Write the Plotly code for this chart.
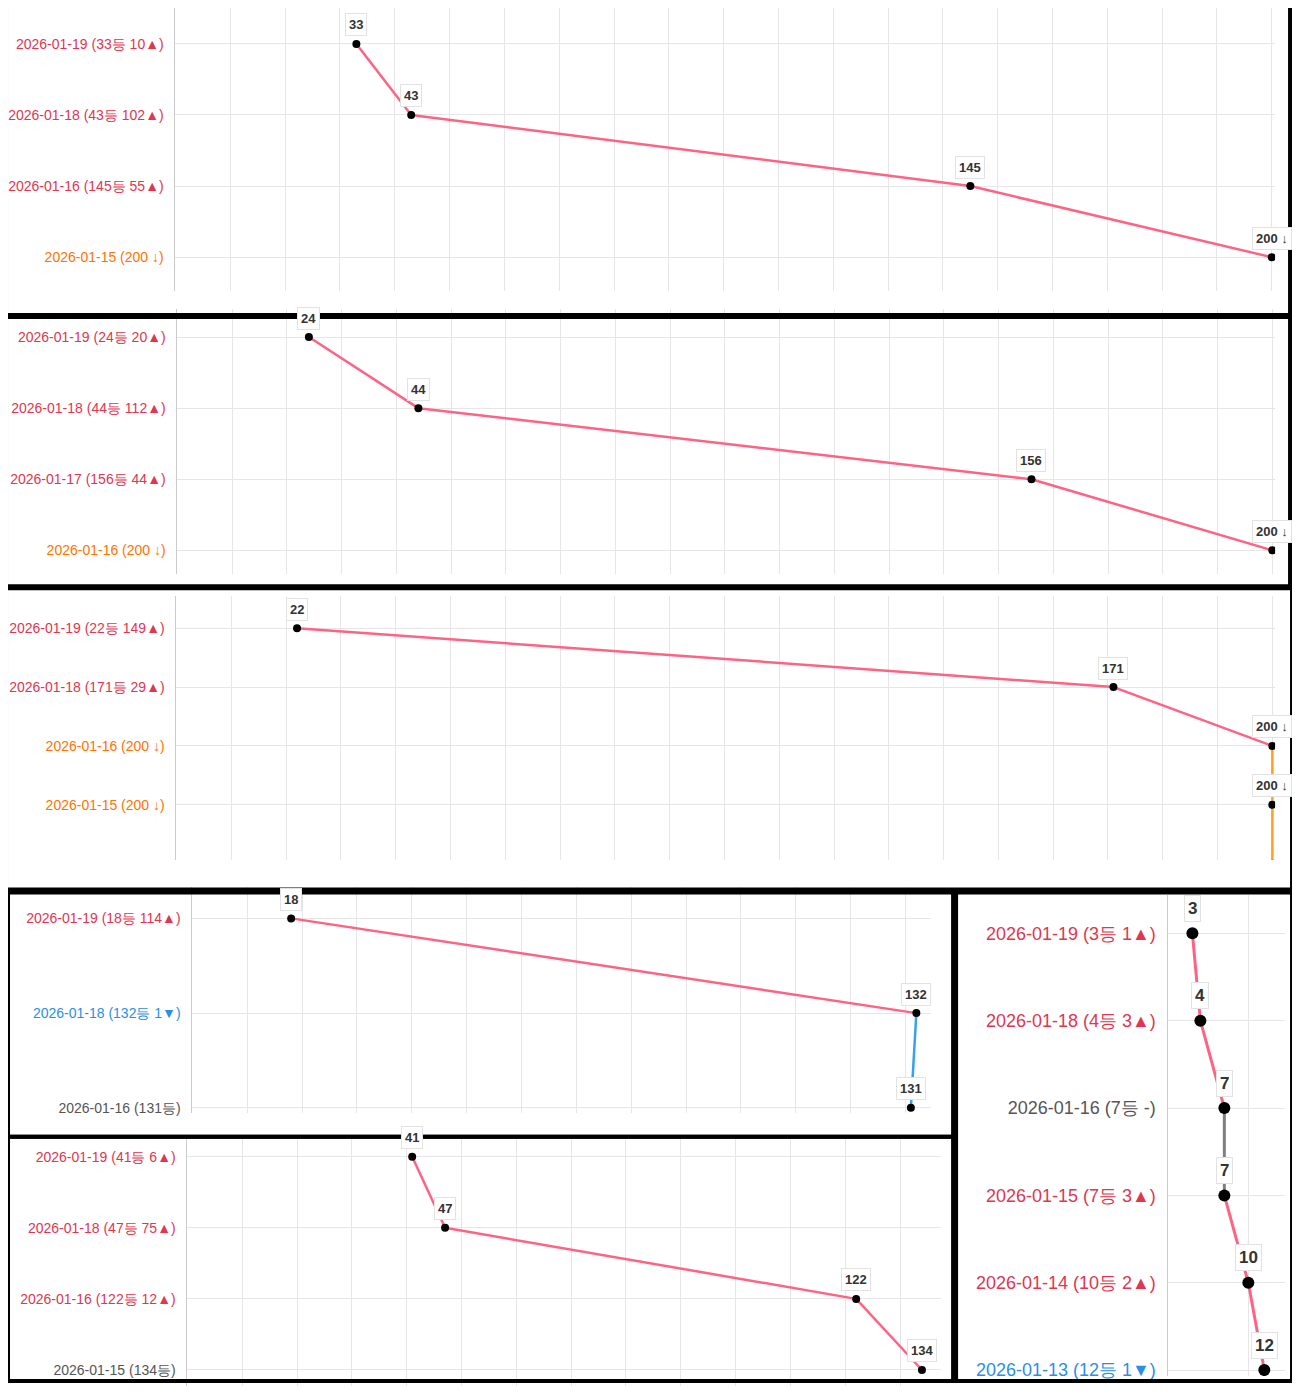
import plotly.graph_objects as go

W, H = 1300, 1396
OFF = 8  # page body margin

RED, ORANGE, BLUE, GREY = "#e0364f", "#ff7300", "#2b8fe8", "#555555"
LINE = {"up": "#ff6384", "out": "#ffa020", "down": "#36a2eb", "same": "#808080"}
TEXT = {"up": RED, "out": ORANGE, "down": BLUE, "same": GREY}

# panel data (top row = latest date)
p1_labels = ["2026-01-19 (33등 10▲)", "2026-01-18 (43등 102▲)", "2026-01-16 (145등 55▲)", "2026-01-15 (200 ↓)"]
p1_ranks = [33, 43, 145, 200]
p1_status = ["up", "up", "up", "out"]
p1_text = ["33", "43", "145", "200 ↓"]

p2_labels = ["2026-01-19 (24등 20▲)", "2026-01-18 (44등 112▲)", "2026-01-17 (156등 44▲)", "2026-01-16 (200 ↓)"]
p2_ranks = [24, 44, 156, 200]
p2_status = ["up", "up", "up", "out"]
p2_text = ["24", "44", "156", "200 ↓"]

p3_labels = ["2026-01-19 (22등 149▲)", "2026-01-18 (171등 29▲)", "2026-01-16 (200 ↓)", "2026-01-15 (200 ↓)", "2026-01-14 (200 ↓)"]
p3_ranks = [22, 171, 200, 200, 200]
p3_status = ["up", "up", "out", "out", "out"]
p3_text = ["22", "171", "200 ↓", "200 ↓", "200 ↓"]

p4_labels = ["2026-01-19 (18등 114▲)", "2026-01-18 (132등 1▼)", "2026-01-16 (131등)"]
p4_ranks = [18, 132, 131]
p4_status = ["up", "down", "same"]
p4_text = ["18", "132", "131"]

p5_labels = ["2026-01-19 (41등 6▲)", "2026-01-18 (47등 75▲)", "2026-01-16 (122등 12▲)", "2026-01-15 (134등)"]
p5_ranks = [41, 47, 122, 134]
p5_status = ["up", "up", "up", "same"]
p5_text = ["41", "47", "122", "134"]

p6_labels = ["2026-01-19 (3등 1▲)", "2026-01-18 (4등 3▲)", "2026-01-16 (7등 -)", "2026-01-15 (7등 3▲)",
             "2026-01-14 (10등 2▲)", "2026-01-13 (12등 1▼)"]
p6_ranks = [3, 4, 7, 7, 10, 12]
p6_status = ["up", "up", "same", "up", "up", "down"]
p6_text = ["3", "4", "7", "7", "10", "12"]

# pixel layout: plot box (x0, x1, y0, y1), x max, first category y, category spacing, font sizes
panels = [
    (p1_labels, p1_ranks, p1_status, p1_text, (172, 1275, 8, 292), 200.6, 44, 71.3, 14, 13),
    (p2_labels, p2_ranks, p2_status, p2_text, (174, 1275, 310, 576), 200.5, 338, 71.3, 14, 13),
    (p3_labels, p3_ranks, p3_status, p3_text, (173, 1275, 598, 862), 200.5, 630, 59.0, 14, 13),
    (p4_labels, p4_ranks, p4_status, p4_text, (189, 930, 890, 1116), 134.7, 921, 95.0, 14, 13),
    (p5_labels, p5_ranks, p5_status, p5_text, (184, 940, 1140, 1390), 137.5, 1160, 71.3, 14, 13),
    (p6_labels, p6_ranks, p6_status, p6_text, (1168, 1285, 898, 1380), 14.6, 936, 87.6, 18, 17),
]


def px(v):
    return (v - OFF) / W


def py(v):
    return 1 - (v - OFF) / H


fig = go.Figure()
annotations = []
for k, (labels, ranks, status, texts, box, xmax, cy0, dy, fs, afs) in enumerate(panels):
    sfx = "" if k == 0 else str(k + 1)
    xa, ya = "x" + sfx, "y" + sfx
    x0, x1, y0, y1 = box
    n = len(ranks)
    idx = list(range(n))
    for i in range(n - 1):
        fig.add_trace(go.Scatter(x=[ranks[i], ranks[i + 1]], y=[i, i + 1], mode="lines",
                                 line=dict(color=LINE[status[i]], width=3 if k == 5 else 2.5),
                                 xaxis=xa, yaxis=ya, showlegend=False, hoverinfo="skip"))
    fig.add_trace(go.Scatter(x=ranks, y=idx, mode="markers",
                             marker=dict(color="black", size=12 if k == 5 else 8),
                             xaxis=xa, yaxis=ya, showlegend=False))
    for i in range(n):
        annotations.append(dict(x=ranks[i], y=i, xref=xa, yref=ya, text="<b>%s</b>" % texts[i],
                                showarrow=False, yshift=25 if k == 5 else 19,
                                font=dict(size=afs, color="#333"), bgcolor="white",
                                bordercolor="#e2e2e2", borderwidth=1, borderpad=3))
    ytop = (y0 - cy0) / dy
    ybot = (y1 - cy0) / dy
    fig.layout["xaxis" + sfx] = dict(domain=[px(x0), px(x1)], range=[0, xmax], anchor=ya,
                                     showticklabels=False, dtick=10, showgrid=True,
                                     gridcolor="#e6e6e6", zeroline=False, fixedrange=True)
    fig.layout["yaxis" + sfx] = dict(domain=[py(y1), py(y0)], range=[ybot, ytop], anchor=xa,
                                     tickvals=idx, ticktext=['<span style="color:%s">%s</span>' % (TEXT[s], l)
                                                             for s, l in zip(status, labels)],
                                     tickfont=dict(size=fs), showgrid=True, gridcolor="#e6e6e6",
                                     zeroline=False, showline=True, linecolor="#cccccc",
                                     ticks="", ticklabelstandoff=8)

frames = [(2, 4, 1290, 316), (2, 318, 1290, 588), (2, 590, 1292, 892),
          (4, 895, 952, 1140), (4, 1140, 952, 1385), (955, 895, 1292, 1385)]
shapes = [dict(type="rect", xref="paper", yref="paper", x0=px(a), x1=px(c), y0=py(d), y1=py(b),
               line=dict(color="black", width=4)) for a, b, c, d in frames]

fig.update_layout(width=W, height=H, margin=dict(l=0, r=0, t=0, b=0), plot_bgcolor="white",
                  paper_bgcolor="white", annotations=annotations, shapes=shapes,
                  font=dict(family="Liberation Sans, Arial, sans-serif"))
fig.write_html("out.html")
